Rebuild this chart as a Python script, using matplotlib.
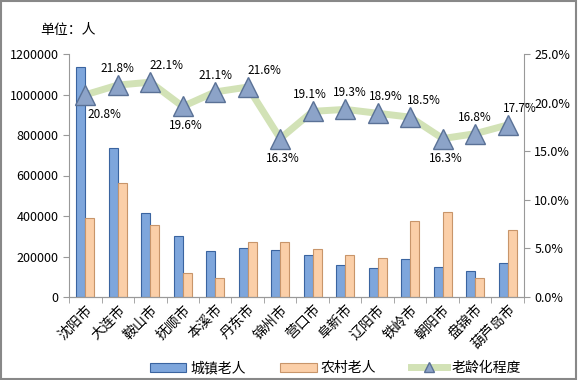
import numpy as np
import matplotlib.pyplot as plt
from matplotlib.ticker import FuncFormatter

plt.rcParams['font.family'] = ['Noto Sans CJK SC', 'DejaVu Sans']

cities = ['沈阳市', '大连市', '鞍山市', '抚顺市', '本溪市', '丹东市', '锦州市',
          '营口市', '阜新市', '辽阳市', '铁岭市', '朝阳市', '盘锦市', '葫芦岛市']
urban = [1136000, 736000, 415000, 301000, 227000, 242000, 232000,
         207000, 158000, 143000, 188000, 148000, 128000, 168000]
rural = [390000, 563000, 355000, 119000, 94000, 272000, 272000,
         237000, 207000, 193000, 375000, 420000, 94000, 331000]
aging = [20.8, 21.8, 22.1, 19.6, 21.1, 21.6, 16.3,
         19.1, 19.3, 18.9, 18.5, 16.3, 16.8, 17.7]

# label placement (points): below-right or above
offsets = [(14, -14), (0, 12), (12, 12), (2, -14), (0, 12), (12, 12), (2, -14),
           (-2, 12), (3, 12), (6, 12), (10, 12), (2, -14), (0, 12), (9, 12)]

fig = plt.figure(figsize=(5.78, 3.80), dpi=100)
ax = fig.add_axes([69/578, 1 - 297/380, (524-69)/578, (297-54)/380])
x = np.arange(len(cities))
w = 0.28

ax.bar(x - w/2, urban, w, color='#7EA6DC', edgecolor='#3A64A0', linewidth=0.8,
       label='城镇老人', zorder=2)
ax.bar(x + w/2, rural, w, color='#FBCFA8', edgecolor='#C8956A', linewidth=0.8,
       label='农村老人', zorder=2)
ax.set_xlim(-0.5, len(cities) - 0.5)
ax.set_ylim(0, 1200000)
ax.set_yticks(np.arange(0, 1200001, 200000))
ax.yaxis.set_major_formatter(FuncFormatter(lambda v, p: '%d' % v))
ax.set_xticks(x)
ax.set_xticklabels(cities, rotation=45, ha='right', rotation_mode='anchor',
                   fontsize=10)
ax.set_xticks(np.arange(-0.5, len(cities)), minor=True)
ax.tick_params(axis='x', which='major', length=0, pad=4)
ax.tick_params(axis='x', which='minor', length=4, color='#999999')
ax.tick_params(axis='y', length=4, color='#999999', labelsize=9)

ax2 = ax.twinx()
ax2.plot(x, aging, color='#D2E2B6', linewidth=5, zorder=3,
         marker='^', markersize=14, markerfacecolor='#8CA3C8',
         markeredgecolor='#5A7196', markeredgewidth=1, label='老龄化程度')
ax2.set_ylim(0, 25)
ax2.set_yticks(np.arange(0, 25.1, 5))
ax2.yaxis.set_major_formatter(FuncFormatter(lambda v, p: '%.1f%%' % v))
ax2.tick_params(axis='y', length=4, color='#999999', labelsize=9)
for i, v in enumerate(aging):
    ax2.annotate('%.1f%%' % v, (x[i], v), xytext=offsets[i],
                 textcoords='offset points', ha='center', va='center',
                 fontsize=8.5, zorder=5)

for a in (ax, ax2):
    a.spines['top'].set_visible(False)
    a.spines['left'].set_color('#999999')
    a.spines['right'].set_color('#999999')
    a.spines['bottom'].set_color('#999999')
ax2.spines['left'].set_visible(False)
ax.spines['right'].set_visible(False)

fig.text(40/578, 1 - 30/380, '单位：人', fontsize=10, va='center')

h1, l1 = ax.get_legend_handles_labels()
h2, l2 = ax2.get_legend_handles_labels()
fig.legend(h1 + h2, l1 + l2, loc='center', bbox_to_anchor=(0.58, 1 - 368/380),
           ncol=3, frameon=False, fontsize=10, handlelength=2.6,
           columnspacing=2.5, handletextpad=0.3, markerscale=0.55,
           handleheight=0.6)

fig.patches.append(plt.Rectangle((0.002, 0.003), 0.995, 0.994,
                                 transform=fig.transFigure, fill=False,
                                 edgecolor='#888888', linewidth=1.5))

plt.savefig('out.png', dpi=100)
